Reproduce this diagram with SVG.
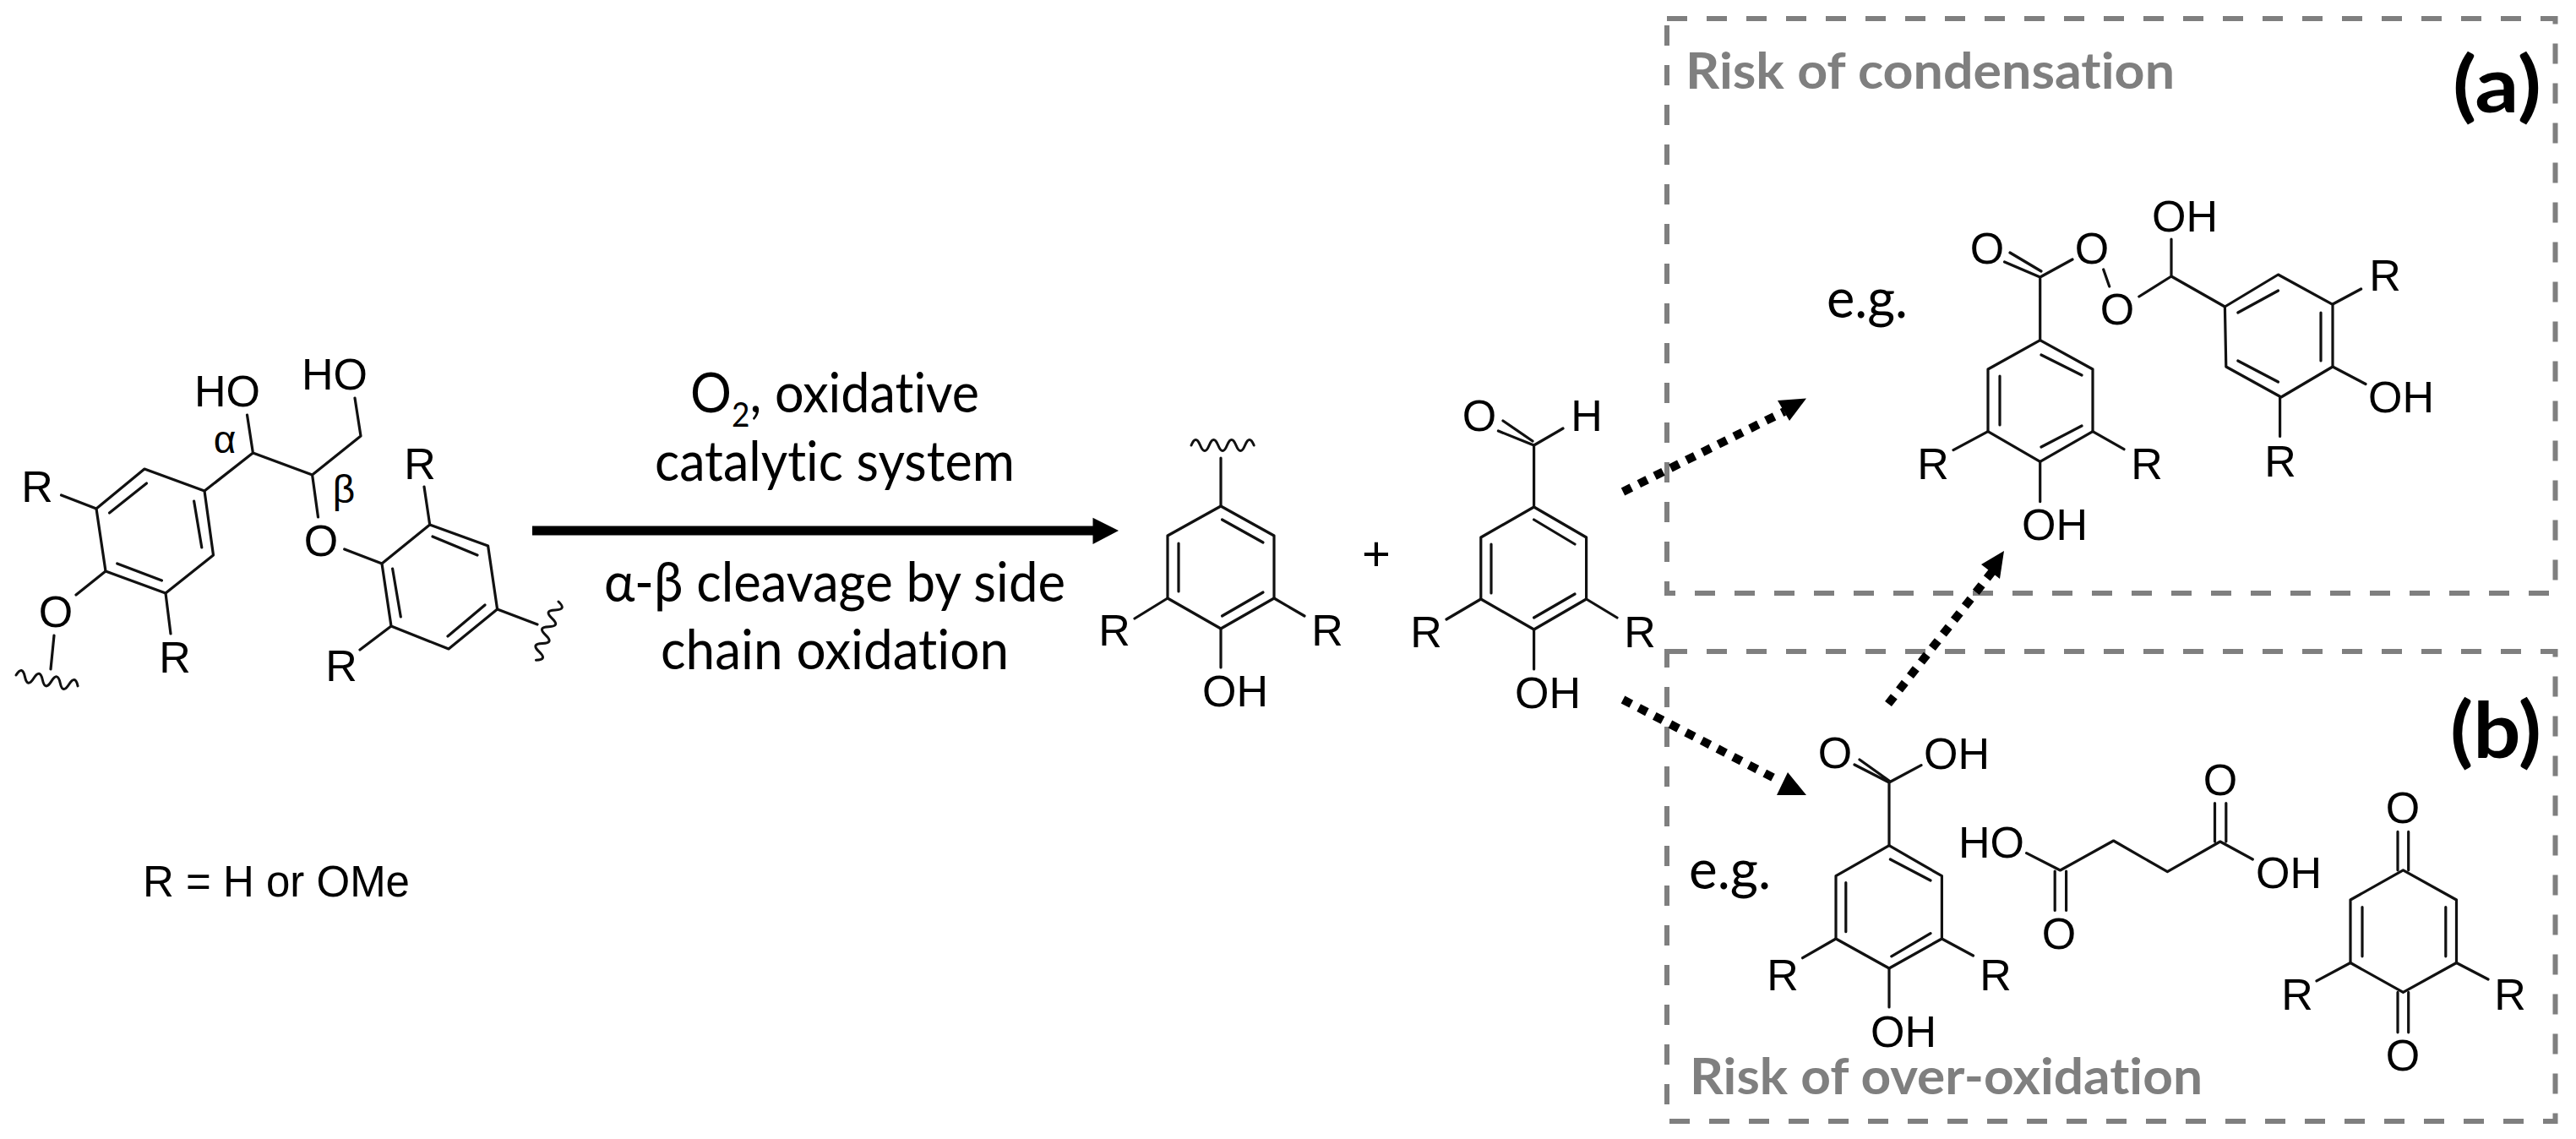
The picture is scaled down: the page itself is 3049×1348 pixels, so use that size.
<svg xmlns="http://www.w3.org/2000/svg" width="3049" height="1348" viewBox="0 0 3049 1348">
<style>
.b{fill:none;stroke:#111;stroke-width:3.2;stroke-linecap:round;stroke-linejoin:round}
.a{font-family:"Liberation Sans",Arial,sans-serif;font-size:52px;fill:#000;text-anchor:middle}
.g{font-size:46px}
.c{font-family:Lato,"Open Sans",sans-serif;font-size:66px;fill:#000;font-variant-ligatures:none}
.h{font-family:Lato,"Open Sans",sans-serif;font-size:60px;font-weight:700;fill:#7f7f7f;font-variant-ligatures:none}
.p{font-family:Lato,"Open Sans",sans-serif;font-size:92px;font-weight:700;fill:#000}
.box{fill:none;stroke:#7f7f7f;stroke-width:6;stroke-dasharray:24 23}
.d{fill:none;stroke:#000;stroke-width:10;stroke-dasharray:11 10}
.w{fill:none;stroke:#111;stroke-width:3;stroke-linecap:round}
</style>
<defs>
<path id="wave" d="M0 0q5.3 -13 10.6 0t10.6 0t10.6 0t10.6 0t10.6 0t10.6 0t10.6 0"/>
</defs>
<rect width="3049" height="1348" fill="#fff"/>

<g id="box-a">
<rect class="box" x="1973" y="22" width="1051.500" height="680"/>
<text class="h" x="1995" y="105" textLength="579" lengthAdjust="spacingAndGlyphs">Risk of condensation</text>
<text class="p" x="2903" y="133" textLength="105" lengthAdjust="spacingAndGlyphs">(a)</text>
<text class="c" x="2162" y="376" textLength="96" lengthAdjust="spacingAndGlyphs">e.g.</text>
</g>
<g id="box-b">
<rect class="box" x="1973" y="771" width="1051.500" height="556"/>
<text class="h" x="2000" y="1295" textLength="607" lengthAdjust="spacingAndGlyphs">Risk of over-oxidation</text>
<text class="p" x="2900" y="897" textLength="108" lengthAdjust="spacingAndGlyphs">(b)</text>
<text class="c" x="1999" y="1052" textLength="97" lengthAdjust="spacingAndGlyphs">e.g.</text>
</g>

<g id="lignin-dimer">
<path class="b" d="M171 555L242 581L252.500 657L196 702L125 676L114 602ZM173.500 572L129.500 607M229.600 593L238.800 648M138.700 667L191.500 687"/>
<path class="b" d="M242 581L299.400 536L369.600 562L427 516L420 471M299.400 536L292.500 491M369.600 562L376.500 612M407.700 650L452 667"/>
<path class="b" d="M452 667L508.700 621L577.600 646L588.600 721L531 768L463 741ZM512 635L565 657M464.600 673L474.300 730M530 753L574 716"/>
<path class="b" d="M508.700 621L502 576M463 741L426 769M588.600 721L636 739M114 602L72.500 586M125 676L90 704M64 752L60 792M196 702L202 750"/>
<use href="#wave" class="w" transform="translate(19 799) rotate(10)"/>
<use href="#wave" class="w" transform="translate(661 712) rotate(111)"/>
<text class="a" x="269" y="481">HO</text>
<text class="a" x="396" y="461">HO</text>
<text class="a" x="380" y="658">O</text>
<text class="a" x="66" y="742">O</text>
<text class="a" x="44" y="594">R</text>
<text class="a" x="207" y="796">R</text>
<text class="a" x="497" y="567">R</text>
<text class="a" x="404" y="806">R</text>
<text class="a g" x="266" y="536">α</text>
<text class="a g" x="407" y="595">β</text>
</g>
<g id="r-legend">
<text x="169" y="1061" style="font-family:'Liberation Sans',Arial,sans-serif;font-size:51px;fill:#000">R = H or OMe</text>
</g>

<g id="arrow-labels">
<text class="c" x="817" y="488" textLength="342" lengthAdjust="spacingAndGlyphs">O<tspan dy="17" style="font-size:40px">2</tspan><tspan dy="-17">, oxidative</tspan></text>
<text class="c" x="775" y="569" textLength="426" lengthAdjust="spacingAndGlyphs">catalytic system</text>
<text class="c" x="715" y="712" textLength="546" lengthAdjust="spacingAndGlyphs">α-β cleavage by side</text>
<text class="c" x="782" y="792" textLength="412" lengthAdjust="spacingAndGlyphs">chain oxidation</text>
</g>

<g id="phenol-unit">
<path class="b" d="M1445 599L1508 634L1508 708L1445 744L1382 708L1382 634ZM1446.500 615L1495 642M1395 643L1395 700M1446.500 729L1495 701"/>
<path class="b" d="M1445 599L1445 542M1382 708L1343 732M1508 708L1544 729M1445 744L1445 790"/>
<use href="#wave" class="w" transform="translate(1410 527)"/>
<text class="a" x="1319" y="764">R</text>
<text class="a" x="1571" y="764">R</text>
<text class="a" x="1462" y="836">OH</text>
</g>
<g id="plus"><text class="a" x="1629" y="675" style="font-size:58px">+</text></g>
<g id="aldehyde">
<path class="b" d="M1815.600 600L1877.600 636L1877.600 709L1815.600 745L1752.800 709L1752.800 636ZM1815.600 615L1864 644M1765 644L1765 702M1815.600 731L1864 703"/>
<path class="b" d="M1815.600 600L1815.600 527L1773.400 510M1814 522L1779 498M1815.600 527L1850 507M1752.800 709L1712 733M1877.600 709L1914 731M1815.600 745L1815.600 792"/>
<text class="a" x="1751" y="510">O</text>
<text class="a" x="1878" y="510">H</text>
<text class="a" x="1688" y="766">R</text>
<text class="a" x="1941" y="766">R</text>
<text class="a" x="1832" y="838">OH</text>
</g>

<g id="condensation-product">
<path class="b" d="M2414.700 402.700L2477 437L2477 510.600L2414.700 546.400L2353 510.600L2353 437ZM2416 420L2464 444M2367 445L2367 503M2416 529L2464 504"/>
<path class="b" d="M2414.700 402.700L2414.700 328L2372.600 310M2416 321L2379 299M2414.700 328L2453 307M2489.700 319L2496.700 339M2531.800 351L2570 327L2570 283M2570 327L2633.400 363"/>
<path class="b" d="M2633.400 363L2696.500 325L2761 360.400L2761 434L2700 470L2634.800 434ZM2648.800 370L2696.500 344M2747 370L2747 427M2648.800 427L2696.500 452"/>
<path class="b" d="M2761 360L2794.600 342M2761 434L2800 454.500M2698.600 470L2698.600 516.500M2353 510.600L2312 532.600M2477 510.600L2514 531.700M2414.700 546.400L2414.700 593.700"/>
<text class="a" x="2352" y="312">O</text>
<text class="a" x="2476" y="312">O</text>
<text class="a" x="2506" y="384">O</text>
<text class="a" x="2586" y="274">OH</text>
<text class="a" x="2823" y="344">R</text>
<text class="a" x="2842" y="488">OH</text>
<text class="a" x="2699" y="564">R</text>
<text class="a" x="2288" y="567">R</text>
<text class="a" x="2541" y="567">R</text>
<text class="a" x="2432" y="639">OH</text>
</g>

<g id="acid-product">
<path class="b" d="M2236 1000.700L2298.400 1036.700L2298.400 1111L2236 1146L2173 1111L2173 1036.700ZM2237.400 1017L2285 1042M2184.800 1044.500L2184.800 1102.700M2238.800 1131.800L2285 1104.600"/>
<path class="b" d="M2236 1000.700L2236 926L2195 905M2236 924L2201 899M2236 926L2274 905.600M2173 1111L2133.600 1133.700M2298.400 1111L2335.500 1131M2236 1146L2236 1192"/>
<text class="a" x="2172" y="909">O</text>
<text class="a" x="2316" y="910">OH</text>
<text class="a" x="2110" y="1172">R</text>
<text class="a" x="2362" y="1172">R</text>
<text class="a" x="2253" y="1239">OH</text>
</g>
<g id="succinic-acid">
<path class="b" d="M2398.600 1009.600L2438.500 1030L2501.600 995L2565.400 1031.700L2627.800 996L2666.300 1017M2432.200 1031L2432.200 1077.500M2445.600 1031L2445.600 1077.500M2621.500 950.600L2621.500 996M2634.800 950.600L2634.800 996"/>
<text class="a" x="2357" y="1015">HO</text>
<text class="a" x="2709" y="1051">OH</text>
<text class="a" x="2437" y="1123">O</text>
<text class="a" x="2628" y="941">O</text>
</g>
<g id="quinone">
<path class="b" d="M2844.400 1029.800L2907.500 1065L2907.500 1139.500L2844.400 1174.400L2782 1139.500L2782 1065ZM2796 1073.600L2796 1131.800M2894.800 1073.600L2894.800 1131.800"/>
<path class="b" d="M2838 984.400L2838 1029.800M2850.700 984.400L2850.700 1029.800M2838 1174.400L2838 1221.800M2850.700 1174.400L2850.700 1221.800M2782 1139.500L2742 1160.900M2907.500 1139.500L2945 1159"/>
<text class="a" x="2844" y="974">O</text>
<text class="a" x="2844" y="1267">O</text>
<text class="a" x="2719" y="1195">R</text>
<text class="a" x="2971" y="1195">R</text>
</g>

<g id="connectors">
<path d="M630 628H1294" fill="none" stroke="#000" stroke-width="11"/>
<path d="M1293.500 612.700L1324 628L1293.500 644Z" fill="#000"/>
<path class="d" d="M1921 582L2112 487"/>
<path d="M2104 474L2118 498L2138 471.500Z" fill="#000"/>
<path class="d" d="M1921 828L2104 923"/>
<path d="M2116 914L2103 941L2138 941Z" fill="#000"/>
<path class="d" d="M2235 833L2360 674"/>
<path d="M2345 668L2367 685L2372 652Z" fill="#000"/>
</g>
</svg>
